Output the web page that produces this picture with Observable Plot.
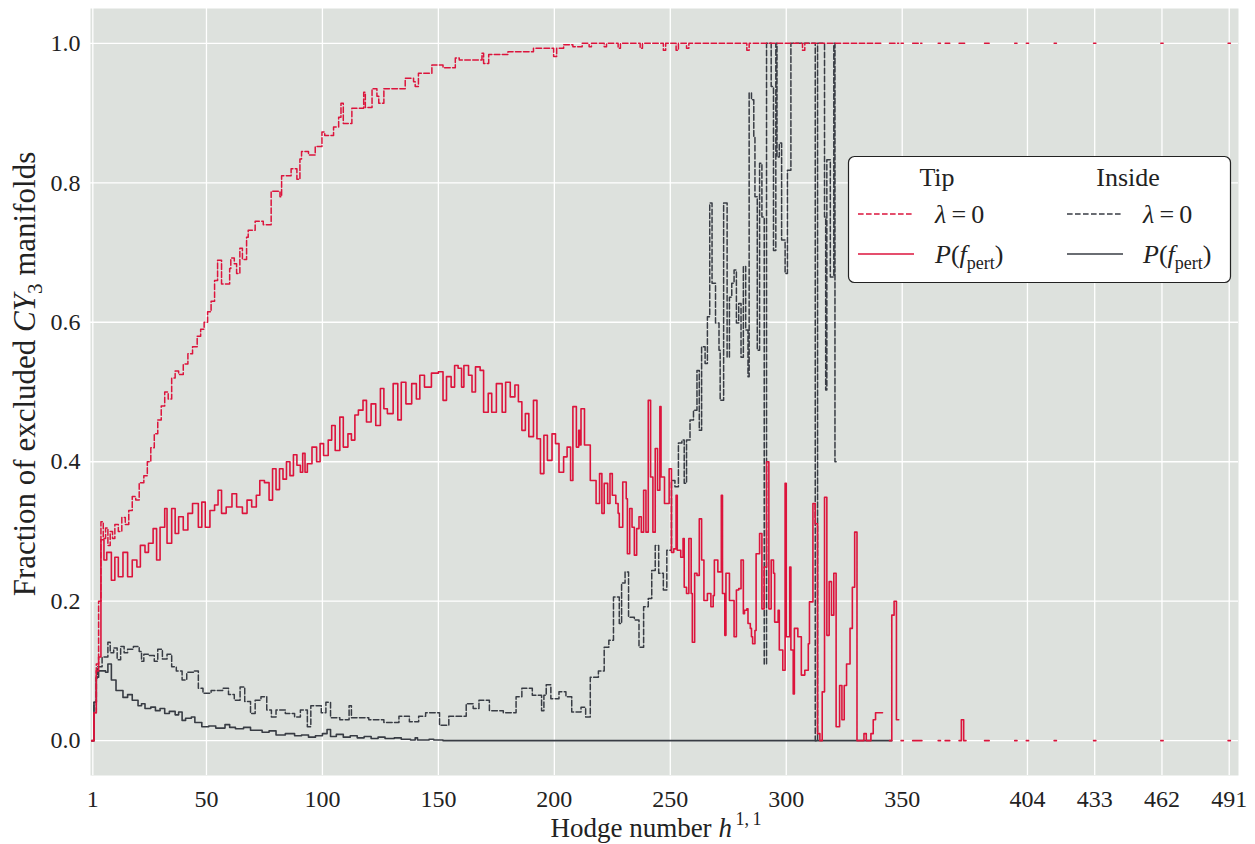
<!DOCTYPE html>
<html><head><meta charset="utf-8">
<script src="https://cdn.jsdelivr.net/npm/d3@7"></script>
<script src="https://cdn.jsdelivr.net/npm/@observablehq/plot@0.6"></script>
<style>
body{margin:0;background:#fff;}
#chart{width:1255px;height:844px;}
</style></head><body><div id="chart"></div>
<script>
// ---------------- data ----------------
const xTicks = [1, 50, 100, 150, 200, 250, 300, 350, 404, 433, 462, 491];
const yTicks = [0, 0.2, 0.4, 0.6, 0.8, 1.0];

// step breakpoints [h where the level starts, level]; null = no data
const tipLambda0 = [[0.5,0],[1.5,0.04],[2.5,0.11],[3.5,0.2],[4.5,0.314],[5.5,0.29],[6.5,0.305],[7.5,0.28],[8.5,0.3],[9.5,0.29],[10.5,0.31],[12,0.3],[13.5,0.32],[15,0.31],[16.5,0.33],[18,0.35],[19.5,0.345],[21,0.37],[23,0.38],[24.5,0.4],[26,0.42],[27.5,0.44],[29,0.46],[30.5,0.48],[32,0.5],[33.5,0.49],[35,0.52],[36.5,0.53],[38,0.525],[40,0.54],[42,0.555],[44,0.565],[46,0.58],[47.5,0.59],[49,0.6],[50.5,0.615],[52,0.63],[53.5,0.66],[54.8,0.689],[56.5,0.655],[60,0.677],[60.5,0.692],[62,0.684],[63,0.67],[64.4,0.706],[65.5,0.69],[67.3,0.722],[68,0.732],[71,0.745],[74.5,0.74],[77.9,0.788],[81.7,0.78],[82.4,0.81],[86.5,0.82],[89,0.805],[90.3,0.834],[91,0.845],[94,0.84],[96.9,0.852],[99.8,0.873],[101,0.868],[104.8,0.88],[107,0.894],[108,0.914],[109,0.885],[112.7,0.907],[117.8,0.93],[118.5,0.908],[121.4,0.935],[123.5,0.924],[124.3,0.914],[126.5,0.935],[135.7,0.95],[139.3,0.945],[140,0.938],[141.4,0.957],[147.2,0.969],[152,0.965],[157.3,0.979],[159,0.976],[168.8,0.986],[169.5,0.971],[171.7,0.984],[180,0.988],[191,0.993],[199.7,0.981],[201,0.993],[204,0.998],[208,0.995],[212,1],[215,0.995],[216,1],[221.5,0.995],[222.5,1],[227.5,0.993],[228.5,1],[237,0.993],[238,1],[247,0.99],[248,1],[252.5,0.99],[253.5,1],[257,0.993],[258,1],[283,0.99],[284,1],[307,0.99],[308,1],[341.5,null]];

const tipPert = [[0.5,0],[1.5,0.04],[2.5,0.1],[3.5,0.12],[4.5,0.288],[5.8,0.259],[7,0.27],[9,0.23],[10.5,0.263],[12,0.235],[14,0.27],[16,0.235],[18,0.259],[20,0.249],[21.5,0.28],[23.5,0.27],[25,0.283],[27,0.304],[28.5,0.259],[30,0.306],[32,0.333],[33,0.283],[35,0.333],[36.5,0.297],[38,0.321],[40,0.302],[42,0.326],[44,0.34],[46.5,0.306],[48,0.342],[49.5,0.306],[51.5,0.33],[53.5,0.338],[55,0.359],[56.5,0.326],[58.5,0.335],[61,0.354],[63,0.335],[65.5,0.326],[67.5,0.345],[69.5,0.335],[71.5,0.352],[73,0.373],[75,0.37],[77,0.345],[78.5,0.39],[80,0.36],[81.5,0.39],[83,0.375],[84.5,0.4],[86,0.38],[87.5,0.41],[89,0.395],[90.5,0.385],[91.5,0.412],[92.5,0.385],[93.5,0.397],[95.5,0.421],[97.5,0.4],[99,0.426],[100.5,0.409],[102.5,0.431],[104,0.452],[105.5,0.416],[107.5,0.464],[109,0.421],[111,0.44],[112.5,0.431],[114,0.467],[115.5,0.474],[117.5,0.488],[119,0.457],[121,0.483],[123,0.452],[125,0.505],[126.5,0.476],[128,0.469],[130.5,0.512],[132.5,0.46],[134,0.514],[136,0.483],[138.5,0.512],[140.5,0.49],[142,0.524],[144,0.507],[147,0.527],[150,0.529],[152,0.488],[153.5,0.522],[155.5,0.507],[157,0.538],[158.5,0.534],[160,0.507],[161,0.538],[163,0.524],[164.5,0.5],[166,0.536],[168,0.531],[169.5,0.471],[171.5,0.498],[173,0.471],[175,0.512],[177.5,0.471],[179,0.514],[181,0.493],[183,0.51],[184.5,0.486],[186,0.445],[187.5,0.469],[189,0.436],[191,0.488],[192.5,0.433],[194,0.383],[195.5,0.438],[197,0.402],[199,0.44],[200.5,0.426],[202,0.385],[204,0.407],[205.5,0.421],[207,0.373],[208,0.479],[209.5,0.421],[210.5,0.445],[211,0.424],[211.5,0.476],[213,0.424],[215.5,0.373],[218,0.34],[219.5,0.383],[220.5,0.326],[221.5,0.369],[223,0.34],[224,0.383],[225,0.352],[226.5,0.34],[227.5,0.326],[228,0.306],[229.5,0.371],[231,0.347],[231.5,0.268],[232.5,0.333],[233.5,0.306],[234.5,0.266],[235.5,0.304],[236.5,0.321],[237.5,0.299],[238.5,0.359],[239.5,0.299],[240.5,0.488],[241.5,0.378],[242.5,0.299],[243.5,0.419],[244.5,0.359],[245.5,0.479],[246,0.378],[247.5,0.34],[249.5,0.39],[250.5,0.27],[251.5,0.275],[252.5,0.352],[253,0.273],[254.5,0.263],[255.5,0.29],[256,0.22],[257,0.211],[258,0.29],[259,0.211],[259.5,0.141],[260.5,0.24],[261.5,0.237],[262.5,0.318],[263.5,0.259],[264.5,0.201],[266,0.211],[267.5,0.192],[268.5,0.208],[269,0.259],[270.5,0.242],[272,0.352],[272.5,0.211],[273.5,0.151],[274,0.24],[275.5,0.201],[277.5,0.149],[278.5,0.216],[279.5,0.218],[280.5,0.259],[281.5,0.182],[282,0.187],[283,0.189],[283.5,0.168],[284.5,0.161],[285,0.149],[285.5,0.139],[286.5,0.158],[287,0.268],[288.5,0.297],[289.5,0.189],[290.5,0.249],[291.5,0.4],[292.5,0.189],[293.5,0.259],[294.5,0.24],[295,0.17],[296.5,0.187],[297,0.13],[298.5,0.101],[299.5,0.369],[300,0.149],[301.5,0.249],[302,0.13],[303,0.067],[303.5,0.161],[305,0.149],[306.5,0.094],[308,0.101],[309.5,0.139],[310,0.199],[311.5,0.34],[312.5,0.311],[313.5,0.01],[314.5,0],[315.5,0.07],[316.5,0.349],[317.5,0.151],[318.5,0.228],[319.5,0.18],[320.5,0.24],[321.5,0.02],[323,0.079],[324,0.03],[325,0.079],[326,0.11],[327.5,0.161],[328.5,0.22],[329.5,0.299],[330.5,0],[333.5,0.01],[334.5,0],[336.5,0.01],[337.5,0.03],[338.5,0.04],[341.5,null]];

const insideLambda0 = [[0.5,0],[1.5,0.055],[2.5,0.09],[3,0.106],[5,0.12],[7.5,0.141],[8.5,0.126],[10,0.133],[11.5,0.116],[13,0.135],[14.5,0.126],[16,0.131],[18.5,0.135],[21,0.128],[22,0.114],[23,0.124],[25,0.122],[27.5,0.114],[29,0.131],[31,0.117],[33,0.124],[35,0.106],[37,0.1],[39.5,0.087],[41.5,0.098],[44.5,0.1],[46.5,0.075],[48.5,0.068],[52,0.072],[57,0.075],[59.5,0.066],[62,0.058],[64.5,0.077],[66.5,0.056],[69,0.039],[71,0.058],[73.5,0.063],[76,0.044],[78,0.034],[80,0.044],[84,0.039],[88,0.034],[90.5,0.044],[93.5,0.02],[95,0.05],[99.5,0.04],[101.5,0.055],[103.5,0.033],[107.5,0.03],[111.5,0.05],[112.5,0.033],[120,0.03],[126.5,0.026],[133,0.035],[137.5,0.027],[141.5,0.035],[144.5,0.04],[150.5,0.022],[154.5,0.035],[162,0.053],[165,0.046],[167.5,0.058],[172,0.043],[178,0.04],[183.5,0.063],[186,0.075],[190.5,0.065],[194.5,0.043],[195.5,0.065],[196.5,0.08],[198.5,0.06],[202,0.07],[205,0.063],[207.5,0.041],[211.5,0.048],[213.5,0.034],[215.5,0.091],[219,0.1],[221.5,0.134],[223.5,0.144],[225.5,0.206],[228,0.168],[229,0.226],[230.5,0.242],[232,0.177],[234.5,0.173],[236.5,0.134],[238.5,0.192],[240.5,0.204],[242,0.244],[243.5,0.28],[245,0.24],[247,0.216],[248.5,0.273],[250.5,0.373],[252,0.364],[253.5,0.427],[255,0.431],[256,0.369],[257,0.431],[258.5,0.46],[260,0.474],[261.5,0.531],[262.5,0.445],[263.5,0.565],[265,0.541],[266,0.608],[267,0.771],[268,0.656],[269.5,0.599],[271,0.56],[271.5,0.488],[273,0.771],[274.5,0.55],[275.5,0.636],[276.5,0.656],[277.5,0.675],[278.5,0.599],[279.5,0.627],[280.5,0.55],[281.5,0.68],[282.5,0.589],[283.5,0.522],[284,0.929],[285,0.919],[286,0.866],[286.5,0.78],[287.5,0.56],[288.5,0.828],[289.5,0.751],[290.5,0.11],[291.5,1],[293.5,0.938],[294.5,0.703],[295.5,1],[296,0.837],[297,0.857],[298,0.718],[299.5,0.67],[300.5,0.818],[302,1],[312.5,0],[313.5,1],[316.5,0.751],[317,0.503],[317.5,0.833],[319,0.665],[320.5,1],[321,0.4],[321.5,null]];

const insidePert = [[0.5,0],[1.5,0.055],[2.5,0.091],[3.5,0.1],[6.5,0.098],[7.5,0.11],[9,0.087],[11,0.072],[14,0.062],[16,0.066],[18,0.058],[20.5,0.05],[22,0.053],[23.5,0.046],[26,0.048],[28,0.043],[30,0.046],[32,0.039],[34,0.042],[36.5,0.037],[38,0.041],[39.5,0.029],[41,0.032],[43.5,0.034],[45,0.026],[48,0.02],[51,0.021],[54,0.018],[58,0.023],[60,0.019],[62.5,0.017],[66,0.019],[69,0.015],[74,0.012],[77,0.014],[80,0.008],[84,0.01],[88,0.007],[91,0.008],[94,0.005],[97,0.007],[100,0.01],[102,0.016],[103.5,0.006],[106,0.009],[109,0.005],[112,0.007],[115,0.004],[118,0.006],[121,0.003],[124,0.005],[127,0.003],[131,0.004],[134,0.002],[138,0.001],[140,0.004],[141,0.001],[146,0.002],[148,0.001],[152,0],[345.5,null]];

// sparse large-h11 values (one h11 each)
const tailH = [345, 346, 347, 348, 350, 355, 356, 357, 358, 366, 369, 370, 375, 376, 377, 386, 387, 399, 404, 416, 433, 462, 491];
const tipLambda0Tail = [1, 1, 1, 1, 1, 1, 1, 1, 1, 1, 1, 1, 1, 1, 1, 1, 1, 1, 1, 1, 1, 1, 1];
const tipPertTail = [0, 0.18, 0.2, 0.03, 0, 0, 0, 0, 0, 0, 0, 0, 0, 0.03, 0, 0, 0, 0, 0, 0, 0, 0, 0];

// ---------------- helpers ----------------
function withTail(bp, tailVals) {
  const b = bp.slice();
  tailH.forEach((h, i) => {
    b.push([h - 0.5, tailVals[i]]);
    if (tailH[i + 1] !== h + 1) b.push([h + 0.5, null]);
  });
  return b;
}
function steps(bp) {
  const out = [];
  for (let i = 0; i < bp.length - 1; i++) {
    const v = bp[i][1];
    out.push({h: bp[i][0], v});
    out.push({h: bp[i + 1][0], v});
  }
  return out;
}

const RED = "#dc143c", DARK = "#383c44", BG = "#dde1dd";
const DASH = "5.6,2.4";
const FONT = "'Liberation Serif', 'DejaVu Serif', serif";

const plot = Plot.plot({
  width: 1255, height: 844,
  marginLeft: 90, marginRight: 17, marginTop: 8, marginBottom: 69,
  style: {fontFamily: FONT, fontSize: "24px", background: "#fff", color: "#222"},
  x: {domain: [0, 495], label: null},
  y: {domain: [-0.05, 1.05], label: null},
  marks: [
    Plot.frame({fill: BG, stroke: "none"}),
    Plot.gridX(xTicks, {stroke: "#fff", strokeOpacity: 1, strokeWidth: 1.3}),
    Plot.gridY(yTicks, {stroke: "#fff", strokeOpacity: 1, strokeWidth: 1.3}),
    Plot.line(steps(insideLambda0), {x: "h", y: "v", stroke: DARK, strokeWidth: 1.5, strokeDasharray: DASH}),
    Plot.line(steps(insidePert), {x: "h", y: "v", stroke: DARK, strokeWidth: 1.6}),
    Plot.line(steps(withTail(tipLambda0, tipLambda0Tail)), {x: "h", y: "v", stroke: RED, strokeWidth: 1.5, strokeDasharray: DASH}),
    Plot.line(steps(withTail(tipPert, tipPertTail)), {x: "h", y: "v", stroke: RED, strokeWidth: 1.6}),
    Plot.axisX(xTicks, {tickSize: 0, tickPadding: 14, label: null, fontSize: 24, tickFormat: d => String(d)}),
    Plot.axisY(yTicks, {tickSize: 0, tickPadding: 10, label: null, fontSize: 24, tickFormat: d3.format(".1f")})
  ]
});
document.getElementById("chart").appendChild(plot);

// ---------------- axis titles & legend ----------------
const svg = d3.select(plot);
const xl = svg.append("text").attr("x", 656).attr("y", 837).attr("text-anchor", "middle")
  .attr("font-size", 27).attr("fill", "#222");
xl.append("tspan").text("Hodge number ");
xl.append("tspan").attr("font-style", "italic").text("h");
xl.append("tspan").attr("font-size", 18).attr("dy", -12).text("\u20091,\u20091");

const yl = svg.append("text").attr("transform", "translate(35,374) rotate(-90)").attr("text-anchor", "middle")
  .attr("font-size", 31).attr("fill", "#222");
yl.append("tspan").text("Fraction of excluded ");
yl.append("tspan").attr("font-style", "italic").text("CY");
yl.append("tspan").attr("font-size", 21).attr("dy", 7).text("3");
yl.append("tspan").attr("dy", -7).text(" manifolds");

const lg = svg.append("g").attr("font-size", 26).attr("fill", "#222");
lg.append("rect").attr("x", 848.5).attr("y", 156.5).attr("width", 382).attr("height", 126).attr("rx", 6)
  .attr("fill", "#fff").attr("stroke", "#222").attr("stroke-width", 1.2);
const cols = [
  {title: "Tip", tx: 937, sx: 858, color: RED, lx: 935},
  {title: "Inside", tx: 1128, sx: 1067, color: DARK, lx: 1143}
];
cols.forEach(c => {
  lg.append("text").attr("x", c.tx).attr("y", 186).attr("text-anchor", "middle").text(c.title);
  lg.append("line").attr("x1", c.sx).attr("x2", c.sx + 56).attr("y1", 214).attr("y2", 214)
    .attr("stroke", c.color).attr("stroke-width", 1.5).attr("stroke-dasharray", DASH);
  lg.append("line").attr("x1", c.sx).attr("x2", c.sx + 56).attr("y1", 254).attr("y2", 254)
    .attr("stroke", c.color).attr("stroke-width", 1.6);
  const t1 = lg.append("text").attr("x", c.lx).attr("y", 223).attr("text-anchor", "start");
  t1.append("tspan").attr("font-style", "italic").text("λ");
  t1.append("tspan").text("\u2009=\u20090");
  const t2 = lg.append("text").attr("x", c.lx).attr("y", 263).attr("text-anchor", "start");
  t2.append("tspan").attr("font-style", "italic").text("P");
  t2.append("tspan").text("(");
  t2.append("tspan").attr("font-style", "italic").text("f");
  t2.append("tspan").attr("font-size", 18).attr("dy", 6).text("pert");
  t2.append("tspan").attr("dy", -6).text(")");
});
svg.selectAll("text").style("font-family", FONT);
</script>
</body></html>
